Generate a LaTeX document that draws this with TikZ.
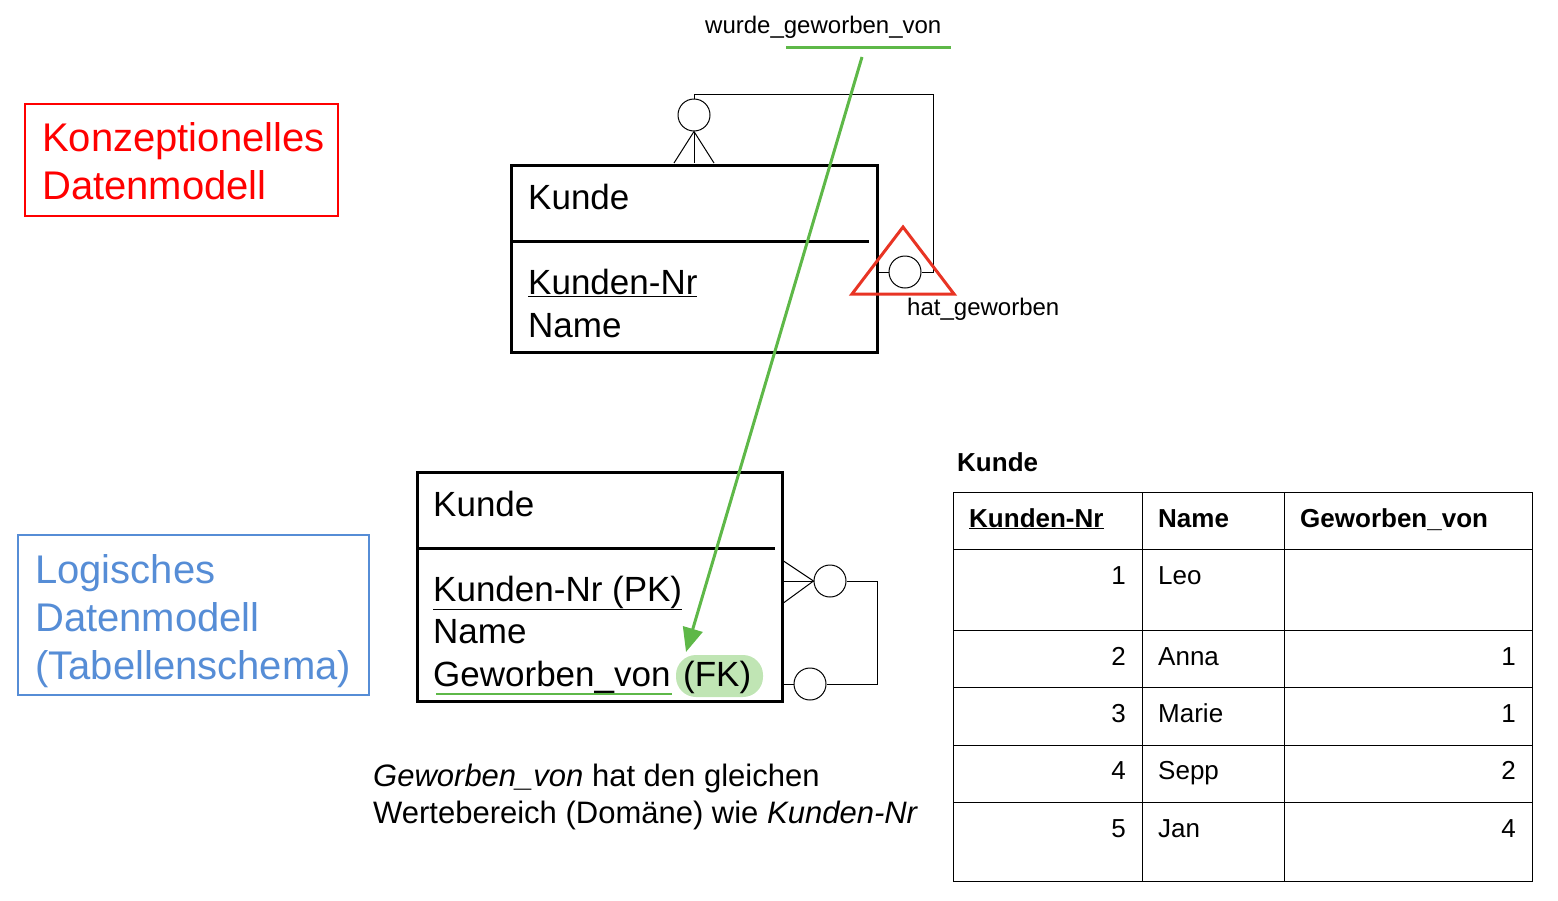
\documentclass[tikz,border=0pt]{standalone}
\usepackage{fontspec}
\setmainfont{Liberation Sans}
\usetikzlibrary{arrows.meta}
\definecolor{konzred}{RGB}{255,0,0}
\definecolor{triared}{RGB}{232,52,36}
\definecolor{logblue}{RGB}{86,141,214}
\definecolor{fkgreen}{RGB}{94,184,72}
\definecolor{fkfill}{RGB}{192,229,180}
\tikzset{
	txt/.style={anchor=base west,inner sep=0pt},
	big/.style={txt,font=\fontsize{40}{48}\selectfont},
	ent/.style={txt,font=\fontsize{35}{42}\selectfont},
	small/.style={txt,font=\fontsize{24}{29}\selectfont},
	cell/.style={txt,font=\fontsize{26}{31}\selectfont},
	cellr/.style={cell,anchor=base east},
	opt/.style={circle,draw,fill=white,minimum size=32pt,inner sep=0pt,line width=1pt},
	thin/.style={line width=1pt},
	box/.style={line width=3pt},
}
\begin{document}
\begin{tikzpicture}[x=1pt,y=-1pt]
	\useasboundingbox (0,0) rectangle (1558,900);
	% Konzeptionelles / Logisches Datenmodell
	\draw[konzred,line width=1.5pt] (25,104) rectangle (338,216);
	\node[big,text=konzred]	(K1) at (42,151)	{Konzeptionelles};
	\node[big,text=konzred]	(K2) at (42,199)	{Datenmodell};
	\draw[logblue,line width=1.5pt] (18,535) rectangle (369,695);
	\node[big,text=logblue]	(L1) at (35,583)	{Logisches};
	\node[big,text=logblue]	(L2) at (35,631)	{Datenmodell};
	\node[big,text=logblue]	(L3) at (35,679)	{(Tabellenschema)};

	% Entitaet oben
	\coordinate (Etl) at (511,165);
	\coordinate (Ebr) at (877,352);
	\draw[box] (Etl) rectangle (Ebr);
	\draw[box] (511,241) -- (869,241);
	\node[ent]	(E1) at (528,209)	{Kunde};
	\node[ent]	(E2) at (528,294)	{\underline{Kunden-Nr}};
	\node[ent]	(E3) at (528,337)	{Name};
	\node[opt]	(O1) at (694,115)	{};
	\node[opt]	(O2) at (905,272)	{};
	\coordinate (C1) at (694,163);
	\coordinate (C2) at (674,163);
	\coordinate (C3) at (714,163);
	\coordinate (C4) at (877,272);
	\path[thin,draw]
	(O1.south) edge	(C1)
	(O1.south) edge	(C2)
	(O1.south) edge	(C3)
	(C4) edge		(O2.west)
	;
	\draw[thin] (O1.north) |- (933,94) |- (O2.east);
	\draw[triared,line width=3pt,line join=miter] (903,227) -- (954,294) -- (852,294) -- cycle;
	\node[small]	(R1) at (705,33)	{wurde\_geworben\_von};
	\node[small]	(R2) at (907,315)	{hat\_geworben};
	\draw[fkgreen,line width=3pt] (786,47) -- (951,47);

	% Tabelle Kunde (Schema)
	\coordinate (Ttl) at (417,472);
	\coordinate (Tbr) at (782,701);
	\draw[box] (Ttl) rectangle (Tbr);
	\draw[box] (417,548) -- (775,548);
	\fill[fkfill,rounded corners=20pt] (676,655) rectangle (763,697);
	\node[ent]	(T1) at (433,516)	{Kunde};
	\node[ent]	(T2) at (433,601)	{\underline{Kunden-Nr (PK)}};
	\node[ent]	(T3) at (433,643)	{Name};
	\node[ent]	(T4) at (433,686)	{Geworben\_von};
	\node[ent]	(T5) at (683,686)	{(FK)};
	\draw[fkgreen,line width=2.5pt] (436,694) -- (672,694);
	\node[opt]	(O3) at (830,581)	{};
	\node[opt]	(O4) at (810,684)	{};
	\coordinate (D1) at (782,560);
	\coordinate (D2) at (782,581);
	\coordinate (D3) at (782,604);
	\coordinate (D4) at (782,684);
	\path[thin,draw]
	(D1) edge	(O3.west)
	(D2) edge	(O3.west)
	(D3) edge	(O3.west)
	(D4) edge	(O4.west)
	;
	\draw[thin] (O3.east) -| (877,684) -- (O4.east);

	% Pfeil FK -> Beziehung
	\coordinate (P1) at (862,57);
	\coordinate (P2) at (686,652);
	\draw[fkgreen,line width=3pt,-{Triangle[length=24pt,width=20pt]}] (P1) -- (P2);

	% Text unten
	\node[txt,font=\fontsize{31}{37}\selectfont]	(B1) at (373,786)	{\textit{Geworben\_von} hat den gleichen};
	\node[txt,font=\fontsize{31}{37}\selectfont]	(B2) at (373,823)	{Wertebereich (Domäne) wie \textit{Kunden-Nr}};

	% Tabelle mit Daten
	\node[cell,font=\fontsize{26}{31}\selectfont\bfseries]	(H0) at (957,471)	{Kunde};
	\draw[thin] (953,492) rectangle (1532,881);
	\foreach \x in {1142,1284}
		\draw[thin] (\x,492) -- (\x,881);
	\foreach \y in {549,630,687,745,802}
		\draw[thin] (953,\y) -- (1532,\y);
	\node[cell,font=\fontsize{26}{31}\selectfont\bfseries]	(H1) at (969,527)	{\underline{Kunden-Nr}};
	\node[cell,font=\fontsize{26}{31}\selectfont\bfseries]	(H2) at (1158,527)	{Name};
	\node[cell,font=\fontsize{26}{31}\selectfont\bfseries]	(H3) at (1300,527)	{Geworben\_von};
	\foreach \nr/\nm/\gv/\y in {1/Leo//584,2/Anna/1/665,3/Marie/1/722,4/Sepp/2/779,5/Jan/4/837}{
		\node[cellr]	(N\nr) at (1126,\y)	{\nr};
		\node[cell]		(M\nr) at (1158,\y)	{\nm};
		\node[cellr]	(G\nr) at (1516,\y)	{\gv};
	}
\end{tikzpicture}
\end{document}
